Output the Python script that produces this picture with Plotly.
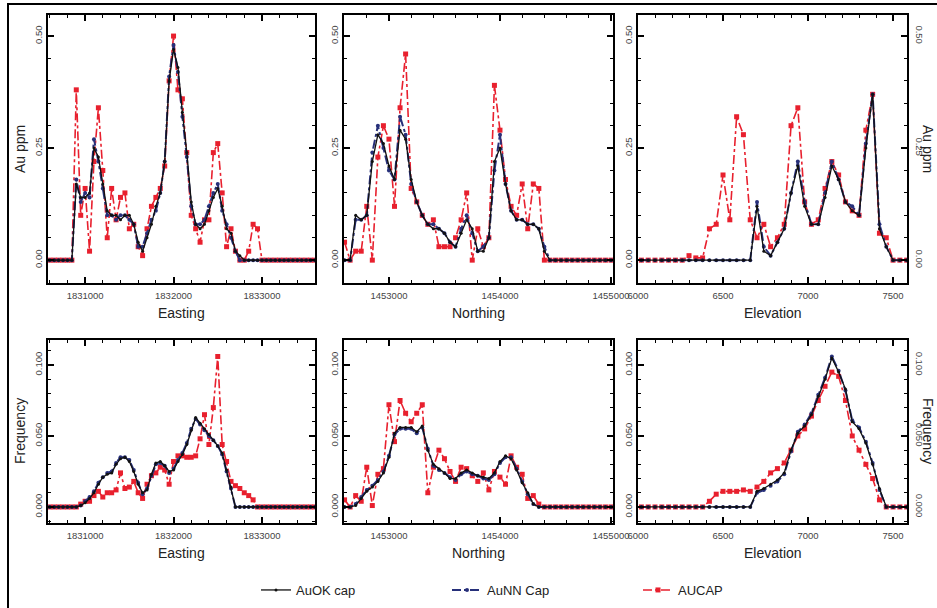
import plotly.graph_objects as go

# ---------------- data ----------------
easting = list(range(1830600, 1833650, 50))      # 61 bins
northing = list(range(1452600, 1455050, 50))     # 49 bins
elevation = list(range(6020, 7620, 40))          # 40 bins

# Au ppm (top row)
e_ok = [0]*6 + [0.17,0.14,0.14,0.15,0.25,0.23,0.17,0.11,0.10,0.10,0.09,0.10,0.10,0.08,0.04,0.02,0.05,0.08,0.12,0.15,0.22,0.40,
                0.47,0.43,0.33,0.24,0.13,0.08,0.07,0.08,0.11,0.14,0.16,0.12,0.07,0.06,0.02,0.01,0.0] + [0]*16
e_nn = [0]*6 + [0.18,0.13,0.15,0.14,0.27,0.22,0.16,0.10,0.10,0.09,0.10,0.10,0.09,0.08,0.03,0.03,0.06,0.09,0.11,0.15,0.22,0.41,
                0.48,0.42,0.32,0.23,0.12,0.08,0.08,0.09,0.12,0.15,0.17,0.11,0.08,0.05,0.02,0.0,0.0] + [0]*16
e_cap = [0]*6 + [0.38,0.10,0.16,0.02,0.22,0.34,0.20,0.05,0.16,0.09,0.14,0.15,0.07,0.08,0.03,0.01,0.07,0.12,0.14,0.16,0.21,0.40,
                 0.50,0.38,0.36,0.24,0.10,0.07,0.04,0.09,0.09,0.24,0.26,0.15,0.03,0.07,0.02,0.0,0.0,0.02,0.08,0.07,0.0] + [0]*12

n_ok = [0.0,0.0,0.10,0.09,0.10,0.22,0.28,0.26,
        0.21,0.18,0.29,0.27,0.18,0.13,0.10,0.08,0.07,0.07,0.06,0.04,0.03,0.06,0.09,0.07,0.02,0.02,0.05,0.22,
        0.25,0.17,0.11,0.09,0.09,0.08,0.08,0.07,0.02] + [0]*12
n_nn = [0.0,0.0,0.09,0.09,0.10,0.24,0.30,0.25,
        0.20,0.18,0.32,0.28,0.17,0.13,0.10,0.08,0.08,0.07,0.06,0.04,0.03,0.07,0.10,0.06,0.02,0.03,0.05,0.20,
        0.28,0.17,0.11,0.09,0.09,0.08,0.08,0.07,0.03] + [0]*12
n_cap = [0.04,0.0,0.02,0.02,0.12,0.0,0.23,0.30,
         0.27,0.12,0.34,0.46,0.16,0.13,0.10,0.08,0.09,0.03,0.03,0.03,0.05,0.09,0.15,0.0,0.07,0.03,0.05,0.39,
         0.29,0.18,0.12,0.10,0.17,0.07,0.17,0.16,0.0] + [0]*12

z_ok = [0]*17 + [0.12,0.02,0.01,0.04,0.07,0.15,0.21,0.12,0.08,0.08,0.14,0.21,0.18,0.13,0.11,0.10,0.25,0.37,0.07,0.03,0.0] + [0]*2
z_nn = [0]*17 + [0.13,0.03,0.01,0.04,0.07,0.15,0.22,0.13,0.08,0.08,0.15,0.22,0.18,0.13,0.12,0.10,0.26,0.37,0.08,0.03,0.0] + [0]*2
z_cap = [0]*7 + [0.01,0.005,0.005,0.07,0.08,0.19,0.09,0.32,0.28,0.09,
                 0.05,0.08,0.03,0.05,0.08,0.30,0.34,0.13,0.08,0.09,
                 0.16,0.22,0.19,0.13,0.11,0.10,0.29,0.37,0.06,0.05,0.0] + [0]*2

# Frequency (bottom row)
fe_ok = [0]*7 + [0.001,0.003,0.006,0.010,0.016,0.021,0.023,0.024,0.030,0.034,0.035,0.032,0.025,0.016,0.010,0.012,0.023,0.031,0.032,0.029,0.025,
                 0.026,0.032,0.037,0.044,0.054,0.063,0.059,0.055,0.051,0.047,0.043,0.038,0.026,0.014,0.0] + [0]*18
fe_nn = [0]*7 + [0.001,0.004,0.007,0.011,0.017,0.021,0.024,0.025,0.031,0.035,0.035,0.033,0.026,0.017,0.009,0.013,0.022,0.030,0.031,0.029,0.024,
                 0.027,0.033,0.038,0.045,0.055,0.062,0.058,0.054,0.050,0.047,0.043,0.037,0.025,0.013,0.0] + [0]*18
fe_cap = [0]*7 + [0.002,0.004,0.004,0.008,0.011,0.007,0.010,0.010,0.012,0.024,0.013,0.014,0.018,0.010,0.006,0.016,0.022,0.024,0.028,0.026,0.016,
                  0.032,0.036,0.036,0.035,0.035,0.036,0.048,0.065,0.044,0.070,0.106,0.044,0.032,0.018,0.015,0.013,0.010,0.008,0.005,0.0] + [0]*13

fn_ok = [0.0,0.0,0.001,0.006,0.011,0.014,0.018,0.024,
         0.035,0.052,0.056,0.056,0.056,0.053,0.057,0.040,0.030,0.027,0.024,0.020,0.020,0.024,0.026,0.024,0.022,0.021,0.020,0.024,
         0.032,0.036,0.034,0.026,0.017,0.010,0.002,0.0] + [0]*13
fn_nn = [0.0,0.0,0.002,0.007,0.012,0.015,0.019,0.025,
         0.036,0.051,0.055,0.055,0.055,0.052,0.056,0.041,0.029,0.026,0.024,0.021,0.019,0.023,0.025,0.023,0.022,0.020,0.019,0.023,
         0.031,0.035,0.035,0.027,0.018,0.009,0.002,0.0] + [0]*13
fn_cap = [0.005,0.0,0.008,0.004,0.028,0.001,0.023,0.027,
          0.072,0.046,0.075,0.066,0.060,0.066,0.072,0.010,0.028,0.040,0.034,0.025,0.018,0.028,0.027,0.022,0.018,0.024,0.012,0.025,
          0.021,0.016,0.036,0.028,0.023,0.006,0.008,0.002,0.0] + [0]*12

fz_ok = [0]*17 + [0.011,0.013,0.016,0.019,0.024,0.040,0.052,0.057,0.065,0.078,0.090,0.105,0.095,0.083,0.060,0.055,0.045,0.030,0.013,0.0] + [0]*3
fz_nn = [0]*17 + [0.010,0.012,0.015,0.018,0.023,0.039,0.053,0.058,0.066,0.079,0.091,0.106,0.096,0.082,0.061,0.056,0.046,0.031,0.012,0.0] + [0]*3
fz_cap = [0]*10 + [0.004,0.009,0.011,0.011,0.011,0.012,0.011,
                   0.014,0.018,0.024,0.027,0.031,0.040,0.050,0.055,0.064,0.075,
                   0.085,0.095,0.092,0.075,0.050,0.040,0.030,0.020,0.005,0.0] + [0]*3

series_names = ["AuOK cap", "AuNN Cap", "AUCAP"]
x_titles = ["Easting", "Northing", "Elevation"]

panels = [
    (easting, e_ok, e_nn, e_cap),
    (northing, n_ok, n_nn, n_cap),
    (elevation, z_ok, z_nn, z_cap),
    (easting, fe_ok, fe_nn, fe_cap),
    (northing, fn_ok, fn_nn, fn_cap),
    (elevation, fz_ok, fz_nn, fz_cap),
]

# ---------------- layout helpers ----------------
W, H = 937, 608
cols = [(48, 315), (344, 613), (638, 907)]
rows = [(15, 283), (340, 523)]
xranges = [[1830580, 1833600], [1452595, 1455018], [6000, 7582]]
xminor = [200, 200, 100]
xdtick = [1000, 1000, 500]
yranges = [[-0.051, 0.547], [-0.0113, 0.1176]]
ydtick = [0.25, 0.05]
yminor = [0.05, 0.01]
yfmt = [".2f", ".3f"]

RED = "#e8202e"
BLUE = "#27307a"
BLACK = "#111111"
FONT = "Liberation Sans, Arial, sans-serif"

fig = go.Figure()

for i, (xs, ok, nn, cap) in enumerate(panels):
    ax = "" if i == 0 else str(i + 1)
    first = (i == 0)
    fig.add_trace(go.Scatter(x=xs, y=cap, name=series_names[2], legendrank=3, showlegend=first,
                             mode="lines+markers", xaxis="x" + ax, yaxis="y" + ax,
                             line=dict(color=RED, width=1.6, dash="dashdot"),
                             marker=dict(symbol="square", size=5, color=RED)))
    fig.add_trace(go.Scatter(x=xs, y=nn, name=series_names[1], legendrank=2, showlegend=first,
                             mode="lines+markers", xaxis="x" + ax, yaxis="y" + ax,
                             line=dict(color=BLUE, width=2, dash="dashdot"),
                             marker=dict(symbol="circle", size=4, color=BLUE)))
    fig.add_trace(go.Scatter(x=xs, y=ok, name=series_names[0], legendrank=1, showlegend=first,
                             mode="lines+markers", xaxis="x" + ax, yaxis="y" + ax,
                             line=dict(color=BLACK, width=1.3),
                             marker=dict(symbol="circle", size=3, color=BLACK)))

layout = {}
for i in range(6):
    r, c = divmod(i, 3)
    ax = "" if i == 0 else str(i + 1)
    x0, x1 = cols[c]
    t, b = rows[r]
    layout["xaxis" + ax] = dict(
        domain=[x0 / W, x1 / W], anchor="y" + ax, range=xranges[c], automargin=False,
        dtick=xdtick[c], tick0=0, tickformat="d", ticklabelstandoff=3,
        ticks="inside", ticklen=6, tickwidth=1.5, tickcolor="black",
        minor=dict(dtick=xminor[c], tick0=0, ticks="inside", ticklen=3, tickcolor="black", tickwidth=1),
        showline=True, linecolor="black", linewidth=2, mirror="ticks",
        showgrid=False, zeroline=False,
        tickfont=dict(family=FONT, size=9.5, color="#444"),
    )
    layout["yaxis" + ax] = dict(
        domain=[1 - b / H, 1 - t / H], anchor="x" + ax, range=yranges[r], automargin=False,
        dtick=ydtick[r], tick0=0, tickformat=yfmt[r], tickangle=-90,
        ticks="inside", ticklen=6, tickwidth=1.5, tickcolor="black",
        minor=dict(dtick=yminor[r], tick0=0, ticks="inside", ticklen=3, tickcolor="black", tickwidth=1),
        showline=True, linecolor="black", linewidth=2, mirror="ticks",
        showgrid=False, zeroline=False,
        tickfont=dict(family=FONT, size=9.5, color="#444"),
    )

# right-hand axes for third column
for r, (yid, base) in enumerate([("7", "3"), ("8", "6")]):
    layout["yaxis" + yid] = dict(
        overlaying="y" + base, anchor="x" + base, side="right", range=yranges[r], automargin=False,
        dtick=ydtick[r], tick0=0, tickformat=yfmt[r], tickangle=90, ticklabelstandoff=6,
        ticks="", showline=False, showgrid=False, zeroline=False,
        tickfont=dict(family=FONT, size=9.5, color="#444"),
    )
    xs = panels[2 + 3 * r][0]
    fig.add_trace(go.Scatter(x=xs, y=panels[2 + 3 * r][1], xaxis="x" + base, yaxis="y" + yid,
                             mode="lines", opacity=0, showlegend=False, hoverinfo="skip"))

annotations = []
for r in range(2):
    t, b = rows[r]
    for c in range(3):
        x0, x1 = cols[c]
        annotations.append(dict(text=x_titles[c], xref="paper", yref="paper",
                                x=(x0 + x1) / 2 / W, y=1 - (b + 30) / H, showarrow=False,
                                font=dict(family=FONT, size=14, color="#222"),
                                xanchor="center", yanchor="middle"))
title_font = dict(family=FONT, size=14, color="#222")
annotations.append(dict(text="Au ppm", xref="paper", yref="paper", x=20 / W, y=1 - 149 / H,
                        xanchor="center", yanchor="middle",
                        textangle=-90, showarrow=False, font=title_font))
annotations.append(dict(text="Frequency", xref="paper", yref="paper", x=20 / W, y=1 - 431 / H,
                        xanchor="center", yanchor="middle",
                        textangle=-90, showarrow=False, font=title_font))
annotations.append(dict(text="Au ppm", xref="paper", yref="paper", x=928 / W, y=1 - 149 / H,
                        xanchor="center", yanchor="middle",
                        textangle=90, showarrow=False, font=title_font))
annotations.append(dict(text="Frequency", xref="paper", yref="paper", x=928 / W, y=1 - 431 / H,
                        xanchor="center", yanchor="middle",
                        textangle=90, showarrow=False, font=title_font))

fig.update_layout(
    **layout,
    annotations=annotations,
    width=W, height=H,
    margin=dict(l=0, r=0, t=0, b=0, autoexpand=False),
    paper_bgcolor="white", plot_bgcolor="white",
    showlegend=True,
    legend=dict(orientation="h", x=256 / W, y=1 - 590 / H, xanchor="left", yanchor="middle",
                font=dict(family=FONT, size=13, color="#222"), entrywidth=146,
                bgcolor="rgba(0,0,0,0)"),
    shapes=[dict(type="rect", xref="paper", yref="paper", x0=8 / W, x1=1.05, y0=-0.05, y1=1 - 4 / H,
                 line=dict(color="black", width=2), fillcolor="rgba(0,0,0,0)", layer="below")],
)

fig.write_html("out.html", config={"displayModeBar": False},
               post_script="document.body.style.margin='0';")
